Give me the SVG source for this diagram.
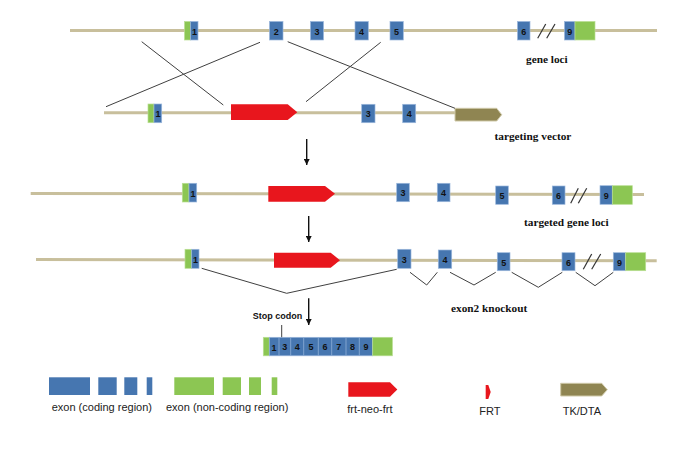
<svg xmlns="http://www.w3.org/2000/svg" width="690" height="474" viewBox="0 0 690 474">
<style>
.dna{stroke:#c8bf9c;stroke-width:3;fill:none}
.b{fill:#4676b0;stroke:#9bb7dc;stroke-width:0.7}
.g{fill:#8cc653;stroke:#b9df93;stroke-width:0.7}
.neo{fill:#e8161d}
.tk{fill:#8f8552;stroke:#cfc9a8;stroke-width:1}
.n{font-family:"Liberation Sans",Arial,sans-serif;font-weight:bold;font-size:9px;fill:#111;text-anchor:middle}
.lab{font-family:"Liberation Serif","Times New Roman",serif;font-weight:bold;font-size:11.3px;fill:#111}
.leg{font-family:"Liberation Sans",Arial,sans-serif;font-size:11px;fill:#222}
.ln{stroke:#404040;stroke-width:1;fill:none}
.arr{stroke:#111;stroke-width:1.4;fill:none}
.sl{stroke:#333;stroke-width:1.2;fill:none}
</style>
<defs>
<marker id="ah" viewBox="0 0 10 10" refX="10" refY="5" markerWidth="8" markerHeight="6" markerUnits="userSpaceOnUse" orient="auto">
<path d="M0,0 L10,5 L0,10 Z" fill="#111"/>
</marker>
</defs>
<rect width="690" height="474" fill="#fff"/>

<g id="row1-gene-loci">
<line class="dna" x1="70" y1="30.5" x2="657" y2="30.5"/>
<rect class="g" x="184.5" y="21.5" width="6" height="18.5"/>
<rect class="b" x="190.5" y="21.5" width="7.5" height="18.5"/>
<text class="n" x="194.5" y="34.5">1</text>
<rect class="b" x="269.5" y="21.5" width="13.5" height="18.5"/><text class="n" x="276.2" y="34.5">2</text>
<rect class="b" x="310.5" y="21.5" width="13" height="18.5"/><text class="n" x="317" y="34.5">3</text>
<rect class="b" x="355" y="21.5" width="13.3" height="18.5"/><text class="n" x="361.6" y="34.5">4</text>
<rect class="b" x="390" y="21.5" width="13.3" height="18.5"/><text class="n" x="396.6" y="34.5">5</text>
<rect class="b" x="517.5" y="21.5" width="12.5" height="18.5"/><text class="n" x="523.7" y="34.5">6</text>
<line class="sl" x1="537.7" y1="38.3" x2="545.7" y2="24"/>
<line class="sl" x1="546.7" y1="38.3" x2="555" y2="24"/>
<rect class="b" x="564.5" y="21.5" width="10.5" height="18.5"/><text class="n" x="569.7" y="34.5">9</text>
<rect class="g" x="575" y="21.5" width="20" height="18.5"/>
<text class="lab" x="526" y="63">gene loci</text>
</g>

<g id="row2-targeting-vector">
<line class="dna" x1="104" y1="112.7" x2="456" y2="112.7"/>
<rect class="g" x="148" y="104" width="6" height="18.7"/>
<rect class="b" x="154" y="104" width="7.7" height="18.7"/>
<text class="n" x="158" y="117">1</text>
<polygon class="neo" points="231,104.3 287.7,104.3 297.3,112.2 287.7,120 231,120"/>
<rect class="b" x="361.7" y="104.3" width="13.3" height="18.4"/><text class="n" x="368.3" y="117">3</text>
<rect class="b" x="402.7" y="104.3" width="13" height="18.4"/><text class="n" x="409.2" y="117">4</text>
<polygon class="tk" points="455,108.3 496.7,108.3 501.7,114.7 496.7,121 455,121"/>
<text class="lab" x="494.5" y="140">targeting vector</text>
</g>

<g id="row3-targeted-gene-loci">
<line class="dna" x1="30.7" y1="193.5" x2="644" y2="194.5"/>
<rect class="g" x="182.3" y="183.3" width="6.7" height="18.7"/>
<rect class="b" x="189" y="183.3" width="7.7" height="18.7"/>
<text class="n" x="193" y="196.5">1</text>
<polygon class="neo" points="268.3,186 325,186 335,193.8 325,201.7 268.3,201.7"/>
<rect class="b" x="396.7" y="183.3" width="12.6" height="18.4"/><text class="n" x="403" y="196">3</text>
<rect class="b" x="437.3" y="183.3" width="12.7" height="18.4"/><text class="n" x="443.6" y="196">4</text>
<rect class="b" x="495.7" y="186" width="12.6" height="18.3"/><text class="n" x="502" y="198.8">5</text>
<rect class="b" x="552.3" y="186" width="12.7" height="18.3"/><text class="n" x="558.6" y="198.8">6</text>
<line class="sl" x1="570.7" y1="203.3" x2="578.3" y2="188.3"/>
<line class="sl" x1="578.3" y1="203.3" x2="586.7" y2="188.3"/>
<rect class="b" x="600" y="185.7" width="12.3" height="18.6"/><text class="n" x="606.2" y="198.8">9</text>
<rect class="g" x="612.3" y="185.7" width="20" height="18.6"/>
<text class="lab" x="524" y="226">targeted gene loci</text>
</g>

<g id="row4-exon2-knockout">
<line class="dna" x1="36" y1="259.5" x2="656.7" y2="260.7"/>
<rect class="g" x="185" y="249.3" width="6.7" height="19"/>
<rect class="b" x="191.7" y="249.3" width="7.3" height="19"/>
<text class="n" x="195.4" y="262.8">1</text>
<polygon class="neo" points="274,252.7 330.7,252.7 340,260.2 330.7,267.7 274,267.7"/>
<rect class="b" x="397.7" y="249.3" width="13.3" height="19"/><text class="n" x="404.3" y="262.5">3</text>
<rect class="b" x="438.3" y="250" width="13.4" height="18.3"/><text class="n" x="445" y="262.5">4</text>
<rect class="b" x="497.3" y="252.7" width="12.7" height="18"/><text class="n" x="503.7" y="265.5">5</text>
<rect class="b" x="562" y="252.7" width="13" height="18"/><text class="n" x="568.5" y="265.5">6</text>
<line class="sl" x1="583.3" y1="269.3" x2="591.7" y2="254"/>
<line class="sl" x1="591.7" y1="269.3" x2="600.7" y2="254"/>
<rect class="b" x="613.3" y="252.7" width="12.4" height="18"/><text class="n" x="619.5" y="265.5">9</text>
<rect class="g" x="625.7" y="252.7" width="20" height="18"/>
<text class="lab" x="451" y="311.7">exon2 knockout</text>
</g>

<g id="connectors">
<line class="ln" x1="141.7" y1="41.7" x2="223.3" y2="105"/>
<line class="ln" x1="260" y1="42.3" x2="106" y2="106.7"/>
<line class="ln" x1="287.7" y1="41.7" x2="455" y2="108.3"/>
<line class="ln" x1="380.7" y1="42.3" x2="306" y2="101.7"/>
<line class="arr" x1="306.7" y1="139" x2="306.7" y2="165" marker-end="url(#ah)"/>
<line class="arr" x1="308.7" y1="216" x2="308.7" y2="242" marker-end="url(#ah)"/>
<line class="arr" x1="308.7" y1="298.3" x2="308.7" y2="325" marker-end="url(#ah)"/>
<polyline class="ln" points="201.7,268.3 286.7,293.3 396.7,269.3"/>
<polyline class="ln" points="410,272.3 426.7,285 437.3,272.3"/>
<polyline class="ln" points="450,272.3 474,285 495.7,272.3"/>
<polyline class="ln" points="511.7,272.3 538.3,287.3 562.3,272.3"/>
<polyline class="ln" points="575.7,272.3 595,285.7 613.3,272.3"/>
<line class="ln" x1="281.7" y1="325" x2="281.7" y2="338"/>
</g>
<text x="252.7" y="319.3" font-family="'Liberation Sans',Arial,sans-serif" font-weight="bold" font-size="9" fill="#111">Stop codon</text>

<g id="mrna">
<rect class="g" x="263.3" y="337.3" width="6" height="18.5"/>
<rect class="b" x="269.3" y="337.3" width="103.4" height="18.5"/>
<g stroke="#8fb0d8" stroke-width="0.8">
<line x1="279" y1="337.5" x2="279" y2="355.6"/>
<line x1="290.7" y1="337.5" x2="290.7" y2="355.6"/>
<line x1="303.7" y1="337.5" x2="303.7" y2="355.6"/>
<line x1="318.3" y1="337.5" x2="318.3" y2="355.6"/>
<line x1="331.7" y1="337.5" x2="331.7" y2="355.6"/>
<line x1="346" y1="337.5" x2="346" y2="355.6"/>
<line x1="359.3" y1="337.5" x2="359.3" y2="355.6"/>
</g>
<rect class="g" x="372.7" y="337.3" width="19.7" height="18.5"/>
<text class="n" x="274" y="350.5">1</text>
<text class="n" x="284.8" y="349.5">3</text>
<text class="n" x="297.2" y="349.5">4</text>
<text class="n" x="311" y="350">5</text>
<text class="n" x="325" y="350">6</text>
<text class="n" x="338.8" y="349.5">7</text>
<text class="n" x="352.6" y="349.5">8</text>
<text class="n" x="366" y="349.5">9</text>
</g>

<g id="legend">
<rect fill="#4676b0" x="49" y="377.3" width="41" height="17.7"/>
<rect fill="#4676b0" x="98.3" y="377.3" width="18.4" height="17.7"/>
<rect fill="#4676b0" x="124.3" y="377.3" width="13" height="17.7"/>
<rect fill="#4676b0" x="146.7" y="377.3" width="5.6" height="17.7"/>
<text class="leg" x="51.7" y="410.7">exon (coding region)</text>
<rect fill="#8cc653" x="174.3" y="377.3" width="39.7" height="17.7"/>
<rect fill="#8cc653" x="222.7" y="377.3" width="18.3" height="17.7"/>
<rect fill="#8cc653" x="249" y="377.3" width="12" height="17.7"/>
<rect fill="#8cc653" x="271.7" y="377.3" width="5.6" height="17.7"/>
<text class="leg" x="166" y="410.7">exon (non-coding region)</text>
<polygon class="neo" points="348.3,382.3 390,382.3 397.3,389.5 390,396.7 348.3,396.7"/>
<text class="leg" x="347.3" y="412.7" font-size="10">frt-neo-frt</text>
<polygon class="neo" points="485.7,385 488.3,385 490.7,392 488.3,399 485.7,399"/>
<text class="leg" x="479.3" y="415" font-size="11.8">FRT</text>
<polygon class="tk" points="560.7,383.3 601.7,383.3 607.3,389.7 601.7,396 560.7,396"/>
<text class="leg" x="562.7" y="415" font-size="11.6">TK/DTA</text>
</g>
</svg>
